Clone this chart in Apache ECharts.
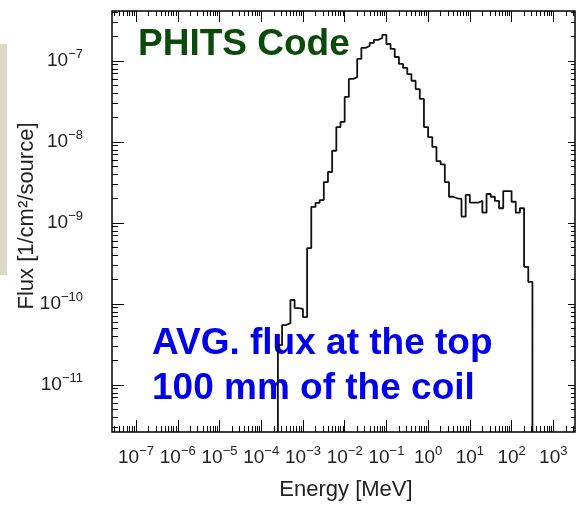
<!DOCTYPE html>
<html>
<head>
<meta charset="utf-8">
<script src="https://cdn.jsdelivr.net/npm/echarts@6/dist/echarts.min.js"></script>
<style>
  html, body { margin: 0; padding: 0; background: #fff; }
  #chart { width: 577px; height: 505px; }
</style>
</head>
<body>
<div id="chart"></div>
<script>
// histogram bin edges, log10(E / MeV), 10 bins per decade
var energyEdges = [
  -3.6, -3.5, -3.4, -3.3, -3.2, -3.1, -3.0, -2.9, -2.8, -2.7,
  -2.6, -2.5, -2.4, -2.3, -2.2, -2.1, -2.0, -1.9, -1.8, -1.7,
  -1.6, -1.5, -1.4, -1.3, -1.2, -1.1, -1.0, -0.9, -0.8, -0.7,
  -0.6, -0.5, -0.4, -0.3, -0.2, -0.1, 0.0, 0.1, 0.2, 0.3,
  0.4, 0.5, 0.6, 0.7, 0.8, 0.9, 1.0, 1.1, 1.2, 1.3,
  1.4, 1.5, 1.6, 1.7, 1.8, 1.9, 2.0, 2.1, 2.2, 2.3,
  2.4, 2.5
];
// flux per bin [1/cm2/source]
var flux = [
  3.1e-11, 5.5e-11, 5.8e-11, 1.12e-10, 8.9e-11, 8.7e-11, 6.9e-11, 4.9e-10, 1.58e-9, 1.77e-9,
  1.92e-9, 3.2e-9, 4.26e-9, 7.8e-9, 1.53e-8, 1.77e-8, 3.6e-8, 6.0e-8, 6.3e-8, 1.06e-7,
  1.45e-7, 1.53e-7, 1.67e-7, 1.82e-7, 1.92e-7, 2.1e-7, 1.62e-7, 1.41e-7, 1.12e-7, 9.2e-8,
  8.2e-8, 6.9e-8, 5.7e-8, 4.5e-8, 3.4e-8, 1.53e-8, 1.15e-8, 8.7e-9, 5.8e-9, 5.3e-9,
  3.2e-9, 2.11e-9, 2.02e-9, 1.98e-9, 1.20e-9, 2.22e-9, 1.78e-9, 1.78e-9, 1.88e-9, 1.34e-9,
  2.28e-9, 2.11e-9, 1.88e-9, 1.52e-9, 2.48e-9, 2.48e-9, 1.83e-9, 1.34e-9, 1.52e-9, 2.88e-10,
  1.88e-10
];
var xDecades = [-7, -6, -5, -4, -3, -2, -1, 0, 1, 2, 3];
var yDecades = [-11, -10, -9, -8, -7];

// axis range in log10 units
var X_MIN = -7.576, X_MAX = 3.52;
var Y_MIN = -11.58, Y_MAX = -6.383;

var font = '"Liberation Sans", Arial, sans-serif';

function minorTicks(lo, hi) {
  var out = [];
  for (var k = Math.floor(lo); k <= Math.ceil(hi); k++) {
    for (var m = 2; m <= 9; m++) {
      var v = k + Math.log10(m);
      if (v > lo && v < hi) out.push(v);
    }
  }
  return out;
}

function powLabel(v) {
  var e = Math.round(v);
  var s = e < 0 ? '\u2212' + (-e) : String(e);
  return '{b|10}{s|' + s + '}';
}

var rich = {
  b: { fontSize: 19, lineHeight: 26, fontFamily: font, color: '#222', verticalAlign: 'middle' },
  s: { fontSize: 13, lineHeight: 13, fontFamily: font, color: '#222', verticalAlign: 'top' }
};

function tickAxis(pos, min, max, values, len, label) {
  return {
    type: 'value',
    position: pos,
    min: min,
    max: max,
    axisLine: { show: false, onZero: false },
    splitLine: { show: false },
    axisTick: {
      show: true, inside: true, length: len, customValues: values,
      lineStyle: { color: '#000', width: 1 }
    },
    axisLabel: label || { show: false }
  };
}

// step points: rise from the floor, one point per bin, close at right edge
var points = [[energyEdges[0], Y_MIN]];
flux.forEach(function (f, i) {
  points.push([energyEdges[i], Math.log10(f)]);
});
points.push([energyEdges[flux.length], Math.log10(flux[flux.length - 1])]);
points.push([energyEdges[flux.length], Y_MIN]);

var chart = echarts.init(document.getElementById('chart'));
var option = {
  animation: false,
  grid: {
    left: 112, top: 11, right: 2, bottom: 73,
    show: true, borderColor: '#000', borderWidth: 1.5
  },
  xAxis: [
    tickAxis('bottom', X_MIN, X_MAX, xDecades, 12, {
      show: true, customValues: xDecades, margin: 13,
      formatter: powLabel, rich: rich
    }),
    tickAxis('bottom', X_MIN, X_MAX, minorTicks(X_MIN, X_MAX), 6),
    tickAxis('top', X_MIN, X_MAX, xDecades, 11),
    tickAxis('top', X_MIN, X_MAX, minorTicks(X_MIN, X_MAX), 5)
  ],
  yAxis: [
    tickAxis('left', Y_MIN, Y_MAX, yDecades, 12, {
      show: true, customValues: yDecades, margin: 29,
      formatter: powLabel, rich: rich
    }),
    tickAxis('left', Y_MIN, Y_MAX, minorTicks(Y_MIN, Y_MAX), 6),
    tickAxis('right', Y_MIN, Y_MAX, yDecades, 7),
    tickAxis('right', Y_MIN, Y_MAX, minorTicks(Y_MIN, Y_MAX), 4)
  ],
  series: [{
    type: 'line',
    xAxisIndex: 0,
    yAxisIndex: 0,
    step: 'end',
    showSymbol: false,
    data: points,
    lineStyle: { color: '#111', width: 1.8 }
  }],
  graphic: [
    { type: 'rect', shape: { x: 0, y: 44, width: 7, height: 231 }, style: { fill: '#dcd8c4' } },
    {
      type: 'text', x: 138, y: 45,
      style: {
        text: 'PHITS Code', font: 'bold 37px ' + font, fill: '#0b4a0b',
        verticalAlign: 'middle',
        shadowBlur: 3, shadowColor: 'rgba(0,0,0,0.4)', shadowOffsetX: 2, shadowOffsetY: 2
      }
    },
    {
      type: 'text', x: 152, y: 344,
      style: { text: 'AVG. flux at the top', font: 'bold 37px ' + font, fill: '#0000ee', verticalAlign: 'middle' }
    },
    {
      type: 'text', x: 152, y: 389,
      style: { text: '100 mm of the coil', font: 'bold 37px ' + font, fill: '#0000ee', verticalAlign: 'middle' }
    },
    {
      type: 'text', x: 27, y: 216, rotation: Math.PI / 2,
      style: { text: 'Flux [1/cm\u00b2/source]', font: '22px ' + font, fill: '#222', align: 'center', verticalAlign: 'middle' }
    },
    {
      type: 'text', x: 346, y: 490,
      style: { text: 'Energy [MeV]', font: '22px ' + font, fill: '#222', align: 'center', verticalAlign: 'middle' }
    }
  ]
};
chart.setOption(option);
</script>
</body>
</html>
